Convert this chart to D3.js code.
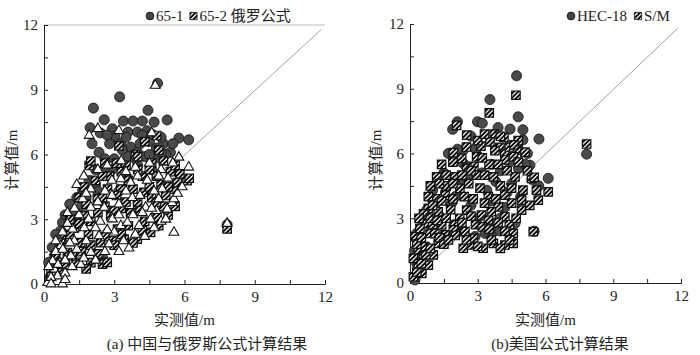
<!DOCTYPE html>
<html>
<head>
<meta charset="utf-8">
<script src="https://cdn.jsdelivr.net/npm/d3@7"></script>
<style>
  body { margin: 0; background: #fff; }
  text { font-family: "Liberation Serif", "Noto Sans CJK SC", serif; }
</style>
</head>
<body>
<div id="chart"></div>
<script>
'use strict';

// ---- data ---------------------------------------------------------------
const tickValues = [0, 1.5, 3, 4.5, 6, 7.5, 9, 10.5, 12];

// (a) 中国与俄罗斯公式
const circles651 = [
  [4.85, 9.3], [3.23, 8.67], [2.11, 8.15], [1.97, 7.24], [2.57, 7.61], [3.39, 7.55], [3.8, 7.55],
  [4.44, 8.05], [5.26, 7.6], [4.2, 7.55], [4.7, 7.5], [5.76, 6.76], [6.18, 6.68], [2.92, 7.19],
  [3.59, 7.04], [3.99, 7.04], [4.4, 7.1], [3.02, 6.84], [3.28, 6.5], [3.7, 6.34], [4.1, 6.5],
  [4.5, 6.6], [4.8, 6.3], [5.1, 6.5], [5.4, 6.1], [2.35, 6.1], [3.35, 6.2], [3.99, 6.1],
  [2.05, 6.5], [2.6, 5.8], [3.6, 5.9], [4.3, 5.9], [4.9, 5.85], [5.2, 6.0], [4.6, 6.95],
  [5.0, 6.8], [0.79, 2.85], [0.72, 2.47], [1.43, 3.0], [1.93, 4.79], [1.65, 4.33], [0.44, 1.3],
  [2.5, 1.22], [0.3, 0.37], [7.82, 2.75], [1.2, 3.4], [2.2, 4.6], [2.9, 5.3], [3.5, 5.0],
  [4.0, 5.5], [4.6, 5.3], [1.0, 2.0], [0.6, 1.0], [1.6, 3.6], [2.4, 3.9], [3.2, 4.3],
  [1.8, 4.0], [2.3, 4.3], [2.6, 5.2], [3.0, 5.8], [3.3, 5.5], [3.9, 5.8], [4.5, 6.0],
  [5.0, 6.1], [5.5, 6.5], [2.2, 5.3], [1.4, 4.0], [0.9, 3.2], [0.5, 2.3], [0.2, 1.0],
  [2.8, 6.5], [4.2, 6.9], [3.5, 6.8], [2.4, 7.0], [2.7, 6.9], [0.35, 1.7], [1.1, 3.7]
];
const squares652 = [
  [6.11, 4.79], [5.55, 4.4], [2.0, 0.99], [2.5, 0.92], [3.98, 2.08], [4.55, 2.39], [3.42, 2.08],
  [2.28, 3.94], [2.71, 4.4], [3.28, 4.4], [4.27, 4.25], [1.72, 3.16], [2.85, 3.16], [3.7, 3.3],
  [1.57, 1.92], [1.0, 1.46], [0.23, 0.22], [0.65, 0.68], [2.42, 1.92], [4.83, 3.08], [3.14, 2.54],
  [4.81, 6.88], [5.8, 5.1], [1.93, 5.49], [2.0, 5.7], [3.1, 5.6], [3.5, 5.5], [4.6, 5.6],
  [5.1, 5.7], [3.2, 6.4], [7.82, 2.55], [1.3, 2.6], [2.0, 2.9], [2.6, 3.6], [3.3, 3.5],
  [4.0, 3.7], [4.6, 4.0], [5.0, 4.6], [5.4, 5.2], [2.2, 4.8], [2.8, 5.0], [3.6, 4.8],
  [4.2, 5.0], [4.8, 5.0], [3.9, 6.0], [4.3, 6.6], [1.5, 4.0], [1.1, 3.0], [0.5, 1.3],
  [0.9, 2.2], [1.9, 2.3], [2.9, 2.0], [3.6, 2.7], [4.3, 2.9], [5.1, 3.6], [5.7, 4.7],
  [0.4, 0.6], [1.4, 1.0], [2.3, 1.4], [3.0, 1.8],
  [0.3, 0.6], [0.7, 1.0], [1.2, 1.3], [0.7, 1.9], [1.6, 1.5], [2.0, 1.8], [2.6, 2.2],
  [3.3, 2.3], [3.8, 1.9], [4.2, 2.5], [4.9, 2.7], [5.3, 3.2], [5.6, 3.6], [1.1, 2.3],
  [1.5, 2.8], [2.3, 3.3], [3.0, 3.4], [3.5, 3.8], [4.1, 3.4], [4.8, 3.8], [5.2, 4.1],
  [1.8, 3.7], [2.5, 4.0], [3.1, 4.1], [3.8, 4.4], [4.5, 4.5], [5.3, 4.5], [1.7, 4.5],
  [2.5, 5.0], [3.3, 5.2], [4.0, 5.3], [4.5, 5.3], [5.6, 5.5], [2.6, 5.6], [4.0, 5.9],
  [4.9, 6.2], [6.2, 4.9], [2.7, 1.0], [1.8, 0.7], [0.9, 0.9]
];
const trianglesRu = [
  [4.75, 9.2], [1.93, 6.88], [3.2, 7.1], [4.6, 7.0], [6.18, 5.41], [5.76, 5.87], [5.26, 3.43],
  [5.47, 3.77], [5.55, 2.39], [3.63, 1.66], [7.82, 2.8], [1.65, 3.94], [2.0, 3.55], [2.57, 3.55],
  [3.2, 3.7], [3.77, 4.0], [4.34, 3.55], [4.9, 3.94], [5.26, 3.47], [5.55, 3.94], [3.28, 2.7],
  [2.78, 1.85], [2.0, 1.46], [1.29, 2.0], [0.79, 2.4], [0.44, 0.68], [0.79, 0.0], [0.16, 0.06],
  [1.22, 2.54], [1.72, 2.6], [2.35, 2.23], [2.92, 3.01], [3.56, 2.85], [4.06, 2.7], [4.55, 3.0],
  [3.7, 4.7], [3.28, 4.87], [4.41, 4.8], [5.05, 4.4], [1.57, 0.9], [1.15, 1.3], [0.72, 1.77],
  [0.37, 1.07], [0.58, 0.37], [2.3, 5.3], [2.7, 5.5], [3.3, 5.7], [3.9, 5.4], [4.5, 5.6],
  [5.0, 5.3], [5.5, 5.6], [1.4, 4.6],
  [2.0, 4.4], [2.6, 4.3], [1.0, 3.3], [1.5, 3.2], [0.5, 2.0], [0.2, 0.8], [0.9, 0.5],
  [2.4, 2.9], [4.8, 3.4], [1.8, 2.0], [3.0, 2.4], [2.3, 7.2],
  [0.3, 0.3], [0.6, 0.9], [0.9, 1.1], [1.2, 0.8], [0.5, 1.5], [0.8, 1.6], [1.1, 1.9],
  [1.4, 1.6], [1.7, 1.2], [2.2, 1.1], [2.6, 1.5], [3.2, 1.5], [3.4, 2.0], [3.9, 2.3],
  [4.3, 2.2], [4.7, 2.6], [5.0, 2.9], [5.2, 3.0], [1.0, 2.8], [1.3, 3.5],
  [1.9, 3.0], [2.2, 2.6], [2.7, 2.5], [3.2, 3.2], [3.8, 3.2], [4.2, 3.3], [4.6, 3.5],
  [5.7, 4.2], [5.9, 4.5], [1.8, 4.2], [2.3, 3.8], [2.9, 4.1], [3.5, 4.3],
  [4.1, 4.1], [4.7, 4.3], [5.3, 4.9], [1.7, 5.0], [2.9, 4.8],
  [3.5, 5.2], [4.0, 5.0], [4.9, 5.0], [0.9, 0.2], [0.3, 0.0]
];

// (b) 美国公式
const circlesHec = [
  [4.72, 9.6], [3.54, 8.5], [4.79, 7.7], [2.1, 7.47], [1.89, 7.12], [2.99, 7.47], [3.2, 7.4],
  [4.43, 7.13], [5.0, 7.1], [5.71, 6.67], [2.36, 6.16], [2.88, 6.24], [5.0, 6.63], [5.31, 5.46],
  [7.82, 5.97], [6.12, 4.85], [3.32, 2.3], [3.69, 2.38], [3.98, 2.41], [4.65, 2.76], [0.74, 3.38],
  [1.84, 3.69], [0.22, 0.14], [2.88, 2.15], [2.1, 6.2], [2.4, 5.5], [3.0, 5.9], [3.6, 5.5],
  [4.0, 5.2], [4.4, 5.6], [4.8, 5.3], [5.1, 5.5], [1.5, 5.1], [1.0, 4.3], [0.3, 2.3],
  [0.5, 1.3], [1.3, 3.1], [2.0, 4.0], [2.7, 3.6], [3.4, 4.3], [4.2, 3.5], [5.4, 4.8],
  [5.5, 2.4], [4.5, 4.6], [1.95, 2.7], [0.3, 0.9],
  [0.4, 2.0], [0.6, 2.8], [0.2, 1.5], [0.5, 0.5], [1.1, 3.6], [1.6, 4.4], [2.2, 4.6],
  [2.6, 5.0], [3.2, 5.1], [3.8, 4.7], [4.3, 4.2], [4.9, 4.0], [5.7, 4.5], [3.0, 3.0],
  [2.3, 2.5], [3.6, 3.8], [4.0, 3.0], [2.3, 5.6], [1.7, 6.0], [2.7, 6.8], [3.9, 7.2], [5.2, 6.0]
];
const squaresSm = [
  [4.69, 8.7], [3.51, 7.88], [2.51, 6.85], [2.06, 7.3], [3.73, 6.9], [4.16, 6.75], [4.79, 6.6],
  [3.54, 6.54], [3.14, 6.34], [3.98, 6.28], [4.79, 6.16], [1.92, 6.04], [3.76, 6.13], [4.2, 5.97],
  [4.2, 5.7], [2.29, 5.77], [2.95, 5.85], [4.58, 5.85], [5.09, 6.06], [2.83, 5.4], [2.51, 5.3],
  [7.82, 6.44], [1.18, 4.92], [2.0, 4.92], [2.95, 5.0], [3.69, 4.92], [4.65, 4.92], [5.38, 4.85],
  [6.12, 4.22], [0.81, 4.0], [1.55, 4.07], [2.21, 4.38], [3.47, 4.0], [4.2, 4.07], [4.94, 3.84],
  [5.68, 3.84], [0.81, 3.46], [1.25, 3.3], [2.51, 3.38], [3.17, 3.15], [3.91, 3.53], [4.2, 3.07],
  [4.94, 3.38], [0.74, 2.76], [1.4, 2.69], [1.99, 2.69], [2.43, 2.38], [3.47, 2.92], [4.57, 2.3],
  [4.57, 1.84], [5.46, 2.38], [2.36, 1.61], [2.73, 1.76], [3.24, 1.61], [3.69, 1.84], [4.2, 1.76],
  [2.8, 2.07], [0.22, 2.15], [0.37, 1.54], [0.15, 1.14], [0.37, 0.76], [0.15, 0.29], [0.52, 0.45],
  [0.81, 0.83], [1.03, 1.3], [0.66, 1.69], [1.25, 1.84], [0.89, 2.3], [0.44, 2.53], [1.55, 2.23],
  [1.92, 2.46], [1.6, 5.0], [2.6, 4.6], [3.1, 4.4], [4.0, 4.5], [4.5, 4.4], [5.0, 4.3],
  [1.2, 3.9], [1.8, 3.4], [2.9, 2.7], [3.6, 3.3], [4.4, 2.7], [3.0, 6.6], [4.4, 6.3],
  [1.6, 4.5], [1.0, 2.7], [0.6, 1.2], [2.0, 2.2], [2.2, 3.0],
  [0.3, 0.5], [0.5, 0.9], [0.7, 1.3], [0.3, 1.8], [0.5, 2.1], [0.6, 3.2], [0.4, 3.0],
  [0.9, 3.0], [1.1, 2.3], [1.3, 2.1], [1.5, 1.8], [1.7, 2.0], [0.9, 1.6], [1.2, 2.9],
  [1.6, 3.0], [2.3, 2.8], [2.7, 3.1], [3.2, 2.6], [3.5, 2.5], [3.9, 2.8], [4.2, 2.4],
  [4.7, 3.0], [1.0, 3.6], [1.4, 3.8], [1.9, 3.9], [2.4, 4.0], [2.8, 3.9], [3.3, 3.7],
  [3.8, 3.9], [4.5, 3.7], [5.3, 3.6], [5.6, 4.3], [0.9, 4.5], [1.3, 4.6], [1.9, 4.6],
  [2.3, 5.0], [2.7, 5.2], [3.3, 5.0], [3.5, 5.5], [3.9, 5.5], [4.3, 5.2], [4.8, 5.6],
  [5.2, 5.2], [5.5, 4.9], [2.5, 6.3], [3.2, 5.8], [3.3, 6.9], [4.0, 6.8], [4.6, 6.4],
  [1.4, 5.5], [1.9, 5.6], [3.0, 1.7], [2.5, 2.0], [3.6, 2.0], [4.0, 1.6], [4.4, 2.0]
];

// ---- drawing -------------------------------------------------------------
const W = 700, H = 355;
const svg = d3.select('#chart').append('svg').attr('width', W).attr('height', H);

// hatched fill for the square markers: white stripes on black
const pat = svg.append('defs').append('pattern')
    .attr('id', 'hatch').attr('patternUnits', 'userSpaceOnUse')
    .attr('width', 3.2).attr('height', 3.2).attr('patternTransform', 'rotate(45)');
pat.append('rect').attr('width', 3.2).attr('height', 3.2).attr('fill', '#000');
pat.append('rect').attr('width', 1.3).attr('height', 3.2).attr('fill', '#fff');

const circleSym = d3.symbol().type(d3.symbolCircle).size(80);
const squareSym = d3.symbol().type(d3.symbolSquare).size(72);
const triSym = d3.symbol().type(d3.symbolTriangle).size(42);

function drawPanel(cfg) {
    const x = d3.scaleLinear().domain([0, 12]).range([cfg.x0, cfg.x1]);
    const y = d3.scaleLinear().domain([0, 12]).range([cfg.y0, cfg.y1]);
    const g = svg.append('g');

    if (cfg.topLine) {
        g.append('line').attr('x1', x(0)).attr('x2', x(12)).attr('y1', y(12)).attr('y2', y(12))
            .attr('stroke', '#bbb').attr('stroke-width', 1);
    }

    const xAxis = g.append('g').attr('transform', `translate(0,${y(0)})`)
        .call(d3.axisBottom(x).tickValues(tickValues).tickSize(-4).tickPadding(7)
            .tickFormat(d => d % 3 === 0 ? d : ''));
    const yAxis = g.append('g').attr('transform', `translate(${x(0)},0)`)
        .call(d3.axisLeft(y).tickValues(tickValues).tickSize(-4).tickPadding(6)
            .tickFormat(d => d % 3 === 0 ? d : ''));
    [xAxis, yAxis].forEach(a => {
        a.select('.domain').attr('stroke', '#222');
        a.selectAll('.tick line').attr('stroke', '#222');
        a.selectAll('text').attr('font-size', 15).attr('fill', '#222')
            .attr('font-family', '"Liberation Serif", serif');
    });

    // 1:1 reference line
    g.append('line').attr('x1', x(0)).attr('y1', y(0)).attr('x2', x(11.85)).attr('y2', y(11.8))
        .attr('stroke', '#888').attr('stroke-width', 0.8);

    cfg.series.forEach(s => {
        g.append('g').selectAll('path').data(s.data).join('path')
            .attr('transform', d => `translate(${x(d[0])},${y(d[1])})`)
            .attr('d', s.sym)
            .attr('fill', s.fill).attr('stroke', '#111').attr('stroke-width', s.sw);
    });

    // legend
    const lg = g.append('g').attr('transform', `translate(${cfg.legendX},16)`);
    let cx = 0;
    cfg.legend.forEach(item => {
        lg.append('path').attr('transform', `translate(${cx + 4},0)`)
            .attr('d', item.sym === 'c' ? d3.symbol().type(d3.symbolCircle).size(48)()
                : d3.symbol().type(d3.symbolSquare).size(52)())
            .attr('fill', item.sym === 'c' ? '#444' : 'url(#hatch)')
            .attr('stroke', '#111').attr('stroke-width', 0.8);
        const t = lg.append('text').attr('x', cx + 10).attr('y', 5)
            .attr('font-size', 15).attr('fill', '#222').text(item.label);
        cx += 10 + t.node().getComputedTextLength() + item.gap;
    });

    // axis titles and caption
    g.append('text').attr('x', (cfg.x0 + cfg.x1) / 2).attr('y', 325)
        .attr('text-anchor', 'middle').attr('font-size', 15).attr('fill', '#222').text('实测值/m');
    g.append('text').attr('transform', `translate(${cfg.ylabX},160) rotate(-90)`)
        .attr('text-anchor', 'middle').attr('font-size', 15).attr('fill', '#222').text('计算值/m');
    g.append('text').attr('x', cfg.capX).attr('y', 349)
        .attr('text-anchor', 'middle').attr('font-size', 15).attr('fill', '#222').text(cfg.caption);
}

drawPanel({
    x0: 44, x1: 325, y0: 284, y1: 25, topLine: true, legendX: 146, ylabX: 17, capX: 207,
    caption: '(a) 中国与俄罗斯公式计算结果',
    legend: [{ sym: 'c', label: '65-1', gap: 6 }, { sym: 's', label: '65-2 俄罗公式', gap: 0 }],
    series: [
        { data: circles651, sym: circleSym, fill: '#4a4a4a', sw: 0.8 },
        { data: squares652, sym: squareSym, fill: 'url(#hatch)', sw: 1.2 },
        { data: trianglesRu, sym: triSym, fill: '#fff', sw: 1.1 }
    ]
});

drawPanel({
    x0: 410, x1: 681, y0: 283, y1: 24, topLine: false, legendX: 567, ylabX: 381, capX: 560,
    caption: '(b)美国公式计算结果',
    legend: [{ sym: 'c', label: 'HEC-18', gap: 7 }, { sym: 's', label: 'S/M', gap: 0 }],
    series: [
        { data: circlesHec, sym: circleSym, fill: '#4a4a4a', sw: 0.8 },
        { data: squaresSm, sym: squareSym, fill: 'url(#hatch)', sw: 1.2 }
    ]
});
</script>
</body>
</html>
